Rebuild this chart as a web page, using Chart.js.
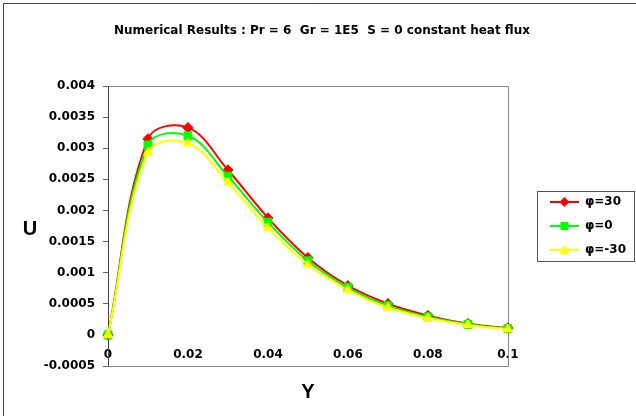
<!DOCTYPE html>
<html>
<head>
<meta charset="utf-8">
<script src="https://cdn.jsdelivr.net/npm/chart.js@4.4.0/dist/chart.umd.min.js"></script>
<style>
  html, body { margin: 0; padding: 0; background: #fff; }
</style>
</head>
<body>
<canvas id="uChart" width="636" height="416"></canvas>
<script>
// distance across the channel (x axis)
var yPositions = [0, 0.01, 0.02, 0.03, 0.04, 0.05, 0.06, 0.07, 0.08, 0.09, 0.1];

// velocity U for each inclination angle
var uPhi30 = [0, 0.00315, 0.00333, 0.00265, 0.00188, 0.00124, 0.00079, 0.00050, 0.00031, 0.00018, 0.00011];
var uPhi0 = [0, 0.00305, 0.00320, 0.00255, 0.00181, 0.00119, 0.00076, 0.00047, 0.00029, 0.00017, 0.00010];
var uPhiMinus30 = [0, 0.00293, 0.00308, 0.00245, 0.00172, 0.00113, 0.00072, 0.00044, 0.00027, 0.00016, 0.00009];

var seriesNames = ['φ=30', 'φ=0', 'φ=-30'];
var seriesColors = ['#ff0000', '#00ff00', '#ffff00'];
var seriesMarkers = ['rectRot', 'rect', 'triangle'];

var tickFont = { family: 'DejaVu Sans', size: 12, weight: 'bold' };

function toPoints(values) {
    return values.map(function (v, i) { return { x: yPositions[i], y: v }; });
}

// small line + marker picture used as the legend symbol
function legendIcon(color, marker) {
    var c = document.createElement('canvas');
    c.width = 29;
    c.height = 12;
    var g = c.getContext('2d');
    g.strokeStyle = color;
    g.fillStyle = color;
    g.lineWidth = 2;
    g.beginPath();
    g.moveTo(0, 6);
    g.lineTo(29, 6);
    g.stroke();
    g.beginPath();
    if (marker === 'rectRot') {
        g.moveTo(14.5, 1); g.lineTo(19.5, 6); g.lineTo(14.5, 11); g.lineTo(9.5, 6);
    } else if (marker === 'rect') {
        g.rect(10.5, 2, 8, 8);
    } else {
        g.moveTo(14.5, 1); g.lineTo(19.5, 10); g.lineTo(9.5, 10);
    }
    g.closePath();
    g.fill();
    return c;
}

var allSeries = [uPhi30, uPhi0, uPhiMinus30];
var datasets = allSeries.map(function (vals, i) {
    return {
        label: seriesNames[i],
        data: toPoints(vals),
        borderColor: seriesColors[i],
        backgroundColor: seriesColors[i],
        borderWidth: 2,
        pointStyle: seriesMarkers[i],
        pointRadius: seriesMarkers[i] === 'rect' ? 5.6 : 5.2,
        pointBorderWidth: 1,
        tension: 0.38,
        clip: false,
        order: 3 - i
    };
});

var framePlugin = {
    id: 'frame',
    beforeDraw: function (chart) {
        var ctx = chart.ctx;
        ctx.save();
        ctx.fillStyle = '#fff';
        ctx.fillRect(0, 0, chart.width, chart.height);
        ctx.strokeStyle = '#444';
        ctx.lineWidth = 1;
        ctx.beginPath();
        ctx.moveTo(3.5, chart.height);
        ctx.lineTo(3.5, 3.5);
        ctx.lineTo(chart.width, 3.5);
        ctx.stroke();
        ctx.restore();
    },
    beforeDatasetsDraw: function (chart) {
        var a = chart.chartArea;
        var ctx = chart.ctx;
        ctx.save();
        ctx.strokeStyle = '#888';
        ctx.lineWidth = 1;
        ctx.beginPath();
        ctx.moveTo(Math.round(a.left) + 0.5, Math.round(a.top) + 0.5);
        ctx.lineTo(Math.round(a.right) + 0.5, Math.round(a.top) + 0.5);
        ctx.lineTo(Math.round(a.right) + 0.5, Math.round(a.bottom) + 0.5);
        ctx.lineTo(Math.round(a.left) + 0.5, Math.round(a.bottom) + 0.5);
        ctx.stroke();
        ctx.restore();
    },
    afterDraw: function (chart) {
        var ctx = chart.ctx;
        var lg = chart.legend;
        ctx.save();
        // legend box
        var boxes = lg.legendHitBoxes;
        if (boxes && boxes.length) {
            var top = boxes[0].top - 4;
            var bottom = boxes[boxes.length - 1].top + boxes[boxes.length - 1].height + 4;
            ctx.strokeStyle = '#555';
            ctx.lineWidth = 1;
            ctx.strokeRect(Math.round(lg.left) - 0.5, Math.round(top) - 0.5,
                Math.round(lg.right - lg.left) - 1, Math.round(bottom - top) + 2);
        }
        // horizontal "U" axis title
        ctx.fillStyle = '#000';
        ctx.font = 'bold 20px "Liberation Sans"';
        ctx.textAlign = 'center';
        ctx.textBaseline = 'middle';
        ctx.fillText('U', 30, (chart.chartArea.top + chart.chartArea.bottom) / 2 + 3);
        ctx.restore();
    }
};

new Chart(document.getElementById('uChart'), {
    type: 'line',
    data: { datasets: datasets },
    plugins: [framePlugin],
    options: {
        responsive: false,
        animation: false,
        layout: { padding: { left: 8, right: 0, top: 0, bottom: 8 } },
        plugins: {
            tooltip: { enabled: false },
            title: {
                display: true,
                text: 'Numerical Results : Pr = 6  Gr = 1E5  S = 0 constant heat flux',
                color: '#000',
                font: { family: 'DejaVu Sans', size: 12, weight: 'bold' },
                padding: { top: 24, bottom: 47.6 }
            },
            legend: {
                position: 'right',
                fullSize: false,
                labels: {
                    usePointStyle: true,
                    pointStyleWidth: 29,
                    padding: 12,
                    color: '#000',
                    font: tickFont,
                    generateLabels: function (chart) {
                        return chart.data.datasets.map(function (ds, i) {
                            return {
                                text: ds.label,
                                pointStyle: legendIcon(seriesColors[i], seriesMarkers[i]),
                                fillStyle: seriesColors[i],
                                strokeStyle: seriesColors[i],
                                lineWidth: 0,
                                hidden: false,
                                datasetIndex: i
                            };
                        });
                    }
                }
            }
        },
        scales: {
            x: {
                type: 'linear',
                position: { y: 0 },
                min: 0,
                max: 0.1,
                grid: { display: false, drawTicks: false },
                border: { display: false },
                ticks: {
                    stepSize: 0.02,
                    color: '#000',
                    font: tickFont,
                    padding: 13,
                    maxRotation: 0,
                    callback: function (v) { return String(+v.toFixed(2)); }
                }
            },
            x2: {
                type: 'linear',
                position: 'bottom',
                min: 0,
                max: 0.1,
                grid: { display: false, drawTicks: false },
                border: { display: false },
                ticks: { display: false },
                title: {
                    display: true,
                    text: 'Y',
                    color: '#000',
                    font: { family: 'Liberation Sans', size: 20, weight: 'bold' },
                    padding: { top: 14, bottom: 4 }
                }
            },
            y: {
                type: 'linear',
                position: 'left',
                min: -0.0005,
                max: 0.004,
                afterFit: function (scale) { scale.width = 100; },
                grid: { drawOnChartArea: false, drawTicks: true, tickLength: 5, color: '#666' },
                border: { display: true, color: '#444', width: 1 },
                ticks: {
                    stepSize: 0.0005,
                    color: '#000',
                    font: tickFont,
                    padding: 8,
                    callback: function (v) { return String(+v.toFixed(4)); }
                }
            },
            yR: {
                type: 'linear',
                position: 'right',
                min: 0,
                max: 1,
                afterFit: function (scale) { scale.width = 30; },
                grid: { display: false, drawTicks: false },
                border: { display: false },
                ticks: { display: false }
            }
        }
    }
});
</script>
</body>
</html>
